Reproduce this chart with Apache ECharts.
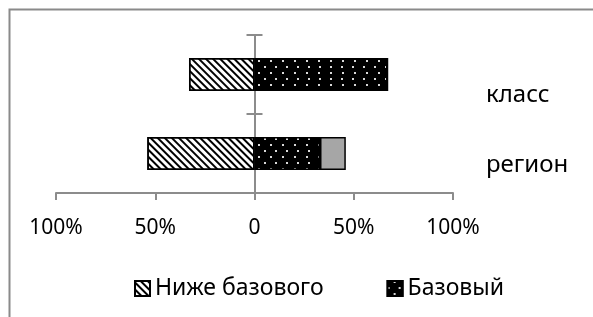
<!DOCTYPE html>
<html>
<head>
<meta charset="utf-8">
<script src="https://cdn.jsdelivr.net/npm/echarts@6/dist/echarts.min.js"></script>
<style>html,body{margin:0;padding:0;background:#fff}#c{width:593px;height:317px}</style>
</head>
<body>
<div id="c"></div>
<script>
const categories = ['регион', 'класс'];
const belowBasic = [-54, -33];
const basic = [33, 67];
const advanced = [13, 0];
const seriesNames = ['Ниже базового', 'Базовый', 'Повышенный'];
const xMin = -100, xMax = 100, xStep = 50;

const FONT = 'Noto Sans';
const AX = '#8c8c8c';
const chart = echarts.init(document.getElementById('c'), null, {renderer: 'canvas'});

const hatch = {symbol: 'rect', color: '#000', dashArrayX: [1, 0], dashArrayY: [2, 3], rotation: Math.PI / 4, symbolSize: 1};
const dots = {symbol: 'rect', color: '#d8d8d8', dashArrayX: [[2, 9], [0, 5.5, 2, 3.5]], dashArrayY: [2, 3.5], symbolSize: 1};

chart.setOption({
  animation: false,
  textStyle: {fontFamily: FONT},
  grid: {left: 56, right: 140, top: 35, bottom: 124, containLabel: false},
  xAxis: [{
    type: 'value', min: xMin, max: xMax, interval: xStep,
    axisLine: {show: true, lineStyle: {color: AX, width: 2}},
    axisTick: {show: true, length: 7, lineStyle: {color: AX, width: 2}},
    splitLine: {show: false},
    axisLabel: {color: '#000', fontSize: 21, fontFamily: FONT, margin: 25,
      formatter: v => v === 0 ? '0' : Math.abs(v) + '%'}
  }, {
    type: 'value', min: xMin, max: xMax, interval: xStep, show: false,
    splitLine: {show: false}
  }],
  yAxis: [
    {type: 'category', data: categories, position: 'left',
      axisLine: {show: true, onZero: true, onZeroAxisIndex: 0, lineStyle: {color: AX, width: 2}},
      axisTick: {show: true, length: 8, inside: false, lineStyle: {color: AX, width: 2}},
      axisLabel: {show: false}},
    {type: 'category', data: categories, position: 'left',
      axisLine: {show: false, onZero: true, onZeroAxisIndex: 1},
      axisTick: {show: true, length: 8, inside: true, lineStyle: {color: AX, width: 2}},
      axisLabel: {show: false}},
    {type: 'category', data: categories, position: 'right',
      axisLine: {show: false, onZero: false},
      axisTick: {show: false},
      axisLabel: {show: true, margin: 33, color: '#000', fontSize: 24, fontFamily: FONT,
        formatter: v => v === 'класс' ? '{k|' + v + '}' : '{r|' + v + '}',
        rich: {k: {fontSize: 24, fontFamily: FONT, color: '#000', padding: [42, 0, 0, 0]},
               r: {fontSize: 24, fontFamily: FONT, color: '#000', padding: [24, 0, 0, 0]}}}}
  ],
  legend: {
    data: [seriesNames[0], seriesNames[1]],
    bottom: 12, left: 129, itemWidth: 15, itemHeight: 15, itemGap: 63,
    textStyle: {fontSize: 23, fontFamily: FONT, color: '#000'},
    icon: 'rect'
  },
  series: [
    {name: seriesNames[0], type: 'bar', stack: 's', data: belowBasic, barWidth: 33,
      itemStyle: {color: '#fff', borderColor: '#000', borderWidth: 1.5, decal: hatch}},
    {name: seriesNames[1], type: 'bar', stack: 's', data: basic, barWidth: 33,
      itemStyle: {color: '#000', borderColor: '#000', borderWidth: 1.5, decal: dots}},
    {name: seriesNames[2], type: 'bar', stack: 's', data: advanced, barWidth: 33,
      itemStyle: {color: '#a6a6a6', borderColor: '#000', borderWidth: 1.5}}
  ],
  graphic: [{type: 'rect', shape: {x: 9.5, y: 9.5, width: 620, height: 340},
    style: {fill: null, stroke: '#8a8a8a', lineWidth: 2}, silent: true, z: 100}]
});
</script>
</body>
</html>
